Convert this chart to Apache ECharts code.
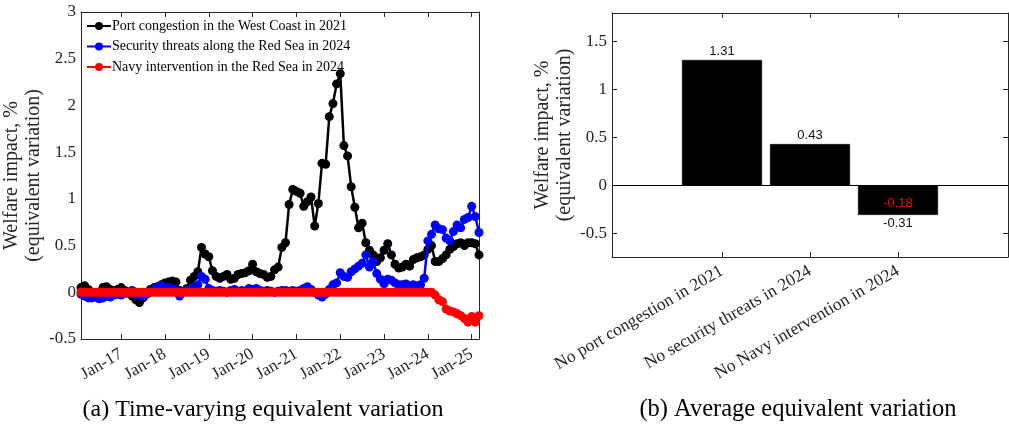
<!DOCTYPE html>
<html>
<head>
<meta charset="utf-8">
<script src="https://cdn.jsdelivr.net/npm/echarts@6/dist/echarts.min.js"></script>
<style>
html,body{margin:0;padding:0;background:#fff;}
#chart{width:1009px;height:426px;}
</style>
</head>
<body>
<div id="chart"></div>
<script>
// ---- Panel (a): monthly series, starting Feb 2016 ----
const startYear = 2016;
const startMonth = 2;
const seriesNames = [
  'Port congestion in the West Coast in 2021',
  'Security threats along the Red Sea in 2024',
  'Navy intervention in the Red Sea in 2024'
];
const portCongestion = [
  0.05, 0.07, 0.03, 0.00, -0.02, 0.00, 0.05, 0.06, 0.03, 0.01,
  0.03, 0.05, 0.02, -0.01, -0.04, -0.08, -0.11, -0.06, 0.00, 0.03,
  0.05, 0.06, 0.08, 0.10, 0.11, 0.12, 0.11, 0.02, 0.00, 0.04,
  0.13, 0.17, 0.22, 0.48, 0.41, 0.38, 0.23, 0.17, 0.15, 0.17,
  0.19, 0.14, 0.15, 0.19, 0.20, 0.21, 0.23, 0.30, 0.22, 0.20,
  0.19, 0.16, 0.17, 0.24, 0.27, 0.48, 0.53, 0.94, 1.10, 1.08,
  1.06, 0.92, 0.97, 1.02, 0.71, 0.95, 1.38, 1.37, 1.88, 2.02,
  2.23, 2.34, 1.57, 1.46, 1.13, 0.91, 0.69, 0.74, 0.53, 0.45,
  0.40, 0.33, 0.37, 0.45, 0.52, 0.40, 0.30, 0.26, 0.27, 0.30,
  0.28, 0.35, 0.37, 0.38, 0.40, 0.46, 0.50, 0.33, 0.33, 0.36,
  0.40, 0.46, 0.49, 0.52, 0.53, 0.50, 0.53, 0.53, 0.52, 0.40
];
const securityThreats = [
  -0.02, -0.04, -0.06, -0.06, -0.05, -0.07, -0.06, -0.04, -0.05, -0.03,
  -0.02, -0.03, -0.01, 0.00, 0.02, -0.02, -0.03, -0.04, -0.02, 0.00,
  0.03, 0.06, 0.07, 0.03, 0.05, 0.04, 0.02, -0.04, 0.01, 0.02,
  0.03, 0.05, 0.08, 0.17, 0.14, 0.04, 0.02, 0.01, 0.02, 0.01,
  0.00, 0.02, 0.03, 0.01, 0.02, 0.01, 0.04, 0.03, 0.04, 0.02,
  0.01, 0.02, 0.01, 0.00, 0.01, 0.02, 0.02, 0.01, 0.02, 0.01,
  0.02, 0.04, 0.06, 0.03, 0.00, -0.03, -0.05, -0.02, 0.03, 0.08,
  0.10, 0.21, 0.17, 0.16, 0.22, 0.25, 0.28, 0.31, 0.40, 0.27,
  0.33, 0.20, 0.14, 0.09, 0.14, 0.13, 0.10, 0.08, 0.08, 0.09,
  0.07, 0.08, 0.07, 0.08, 0.15, 0.55, 0.62, 0.72, 0.68, 0.67,
  0.58, 0.55, 0.65, 0.72, 0.69, 0.78, 0.80, 0.92, 0.81, 0.64
];
const navyIntervention = [
  0, 0, 0, 0, 0, 0, 0, 0, 0, 0,
  0, 0, 0, 0, 0, 0, 0, 0, 0, 0,
  0, 0, 0, 0, 0, 0, 0, 0, 0, 0,
  0, 0, 0, 0, 0, 0, 0, 0, 0, 0,
  0, 0, 0, 0, 0, 0, 0, 0, 0, 0,
  0, 0, 0, 0, 0, 0, 0, 0, 0, 0,
  0, 0, 0, 0, 0, 0, 0, 0, 0, 0,
  0, 0, 0, 0, 0, 0, 0, 0, 0, 0,
  0, 0, 0, 0, 0, 0, 0, 0, 0, 0,
  0, 0, 0, 0, 0, 0, 0, -0.03, -0.08, -0.10,
  -0.18, -0.20, -0.21, -0.23, -0.25, -0.28, -0.32, -0.26, -0.32, -0.25
];
const leftYTicks = [-0.5, 0, 0.5, 1, 1.5, 2, 2.5, 3];
const monthNames = ['Jan','Feb','Mar','Apr','May','Jun','Jul','Aug','Sep','Oct','Nov','Dec'];

// ---- Panel (b): averages ----
const barCategories = ['No port congestion in 2021', 'No security threats in 2024', 'No Navy intervention in 2024'];
const barPositions = [1, 2, 3];
const barValues = [1.31, 0.43, -0.31];
const barInsideLabels = [null, null, -0.18];
const rightYTicks = [-0.5, 0, 0.5, 1, 1.5];

// build month categories
const months = [];
for (let i = 0; i < portCongestion.length; i++) {
  const t = (startMonth - 1) + i;
  const y = startYear + Math.floor(t / 12);
  const m = t % 12 + 1;
  months.push(y + '-' + (m < 10 ? '0' + m : m));
}
const isJan = (idx, val) => val.slice(5) === '01';
const fmtMonth = v => monthNames[parseInt(v.slice(5), 10) - 1] + '-' + v.slice(2, 4);

const SERIF = '"Liberation Serif", "Times New Roman", serif';
const AX = '#262626';
const axLine = { show: true, onZero: false, lineStyle: { color: AX, width: 1 } };

const chart = echarts.init(document.getElementById('chart'), null, { renderer: 'canvas' });

const option = {
  animation: false,
  backgroundColor: '#fff',
  grid: [
    { left: 81, top: 12, width: 398, height: 327, containLabel: false },
    { left: 612, top: 13, width: 396, height: 244, containLabel: false }
  ],
  legend: {
    orient: 'vertical',
    left: 86, top: 19,
    itemWidth: 24, itemHeight: 10, itemGap: 6.5,
    data: seriesNames,
    textStyle: { fontFamily: SERIF, fontSize: 14, color: '#000', padding: [0, 0, 0, -4] },
    padding: 0
  },
  xAxis: [
    {
      gridIndex: 0, type: 'category', data: months, boundaryGap: false,
      axisLine: axLine,
      axisTick: { inside: true, length: 5, interval: isJan, lineStyle: { color: AX } },
      axisLabel: { interval: isJan, formatter: fmtMonth, rotate: 30, margin: 14,
        fontFamily: SERIF, fontSize: 17, color: AX },
      splitLine: { show: false }
    },
    {
      gridIndex: 0, type: 'category', data: months, boundaryGap: false, position: 'top',
      axisLine: axLine,
      axisTick: { inside: true, length: 5, interval: isJan, lineStyle: { color: AX } },
      axisLabel: { show: false },
      splitLine: { show: false }
    },
    {
      gridIndex: 1, type: 'value', min: -0.25, max: 4.25,
      axisLine: axLine,
      axisTick: { inside: true, length: 5, customValues: barPositions, lineStyle: { color: AX } },
      axisLabel: { customValues: barPositions, formatter: v => barCategories[barPositions.indexOf(v)],
        rotate: 30, margin: 13, fontFamily: SERIF, fontSize: 17.5, color: AX },
      splitLine: { show: false }
    },
    {
      gridIndex: 1, type: 'value', min: -0.25, max: 4.25, position: 'top',
      axisLine: axLine,
      axisTick: { inside: true, length: 5, customValues: barPositions, lineStyle: { color: AX } },
      axisLabel: { show: false },
      splitLine: { show: false }
    }
  ],
  yAxis: [
    {
      gridIndex: 0, type: 'value', min: -0.5, max: 3, interval: 0.5,
      axisLine: axLine,
      axisTick: { inside: true, length: 5, lineStyle: { color: AX } },
      axisLabel: { fontFamily: SERIF, fontSize: 17, color: AX, margin: 5 },
      splitLine: { show: false },
      name: 'Welfare impact, %\n(equivalent variation)',
      nameLocation: 'middle', nameRotate: 90, nameGap: 36,
      nameTextStyle: { fontFamily: SERIF, fontSize: 20, color: AX, lineHeight: 22 }
    },
    {
      gridIndex: 0, type: 'value', min: -0.5, max: 3, interval: 0.5, position: 'right',
      axisLine: axLine,
      axisTick: { inside: true, length: 5, lineStyle: { color: AX } },
      axisLabel: { show: false },
      splitLine: { show: false }
    },
    {
      gridIndex: 1, type: 'value', min: -0.75, max: 1.8,
      axisLine: axLine,
      axisTick: { inside: true, length: 5, customValues: rightYTicks, lineStyle: { color: AX } },
      axisLabel: { customValues: rightYTicks, fontFamily: SERIF, fontSize: 17, color: AX, margin: 5 },
      splitLine: { show: false },
      name: 'Welfare impact, %\n(equivalent variation)',
      nameLocation: 'middle', nameRotate: 90, nameGap: 31,
      nameTextStyle: { fontFamily: SERIF, fontSize: 20, color: AX, lineHeight: 22 }
    },
    {
      gridIndex: 1, type: 'value', min: -0.75, max: 1.8, position: 'right',
      axisLine: axLine,
      axisTick: { inside: true, length: 5, customValues: rightYTicks, lineStyle: { color: AX } },
      axisLabel: { show: false },
      splitLine: { show: false }
    }
  ],
  series: [
    {
      name: seriesNames[0], type: 'line', xAxisIndex: 0, yAxisIndex: 0,
      data: portCongestion, symbol: 'circle', symbolSize: 9, showAllSymbol: true,
      lineStyle: { color: '#000', width: 2.5 }, itemStyle: { color: '#000' }, z: 2
    },
    {
      name: seriesNames[1], type: 'line', xAxisIndex: 0, yAxisIndex: 0,
      data: securityThreats, symbol: 'circle', symbolSize: 9, showAllSymbol: true,
      lineStyle: { color: '#0000ff', width: 2.5 }, itemStyle: { color: '#0000ff' }, z: 3
    },
    {
      name: seriesNames[2], type: 'line', xAxisIndex: 0, yAxisIndex: 0,
      data: navyIntervention, symbol: 'circle', symbolSize: 9, showAllSymbol: true,
      lineStyle: { color: '#ff0000', width: 2.5 }, itemStyle: { color: '#ff0000' }, z: 4
    },
    {
      type: 'bar', xAxisIndex: 2, yAxisIndex: 2, barWidth: 80, barGap: '-100%',
      data: barValues.map((v, i) => ({
        value: [barPositions[i], v],
        label: { position: v >= 0 ? 'top' : 'bottom' }
      })),
      itemStyle: { color: '#000', borderColor: '#000', borderWidth: 0.5 },
      label: { show: true, distance: 2, formatter: p => p.value[1].toFixed(2),
        fontFamily: '"Liberation Sans", Arial, sans-serif', fontSize: 13, color: '#111' },
      markLine: {
        silent: true, symbol: 'none', label: { show: false },
        lineStyle: { color: '#000', width: 1, type: 'solid' },
        data: [{ yAxis: 0 }]
      },
      z: 2
    },
    {
      type: 'bar', xAxisIndex: 2, yAxisIndex: 2, barWidth: 80, barGap: '-100%',
      data: barValues.map((v, i) => barInsideLabels[i] === null ? null : ({
        value: [barPositions[i], v]
      })),
      itemStyle: { color: 'rgba(0,0,0,0)' },
      label: { show: true, position: 'insideBottom', distance: 5,
        formatter: p => barInsideLabels[p.dataIndex].toFixed(2),
        fontFamily: '"Liberation Sans", Arial, sans-serif', fontSize: 13, color: '#ff0000' },
      z: 3
    }
  ],
  graphic: [
    { type: 'text', x: 263, y: 410, style: { text: '(a) Time-varying equivalent variation',
      font: '24px ' + SERIF, fill: '#000', textAlign: 'center', textVerticalAlign: 'middle' } },
    { type: 'text', x: 798, y: 410, style: { text: '(b) Average equivalent variation',
      font: '24.5px ' + SERIF, fill: '#000', textAlign: 'center', textVerticalAlign: 'middle' } }
  ]
};
chart.setOption(option);
</script>
</body>
</html>
